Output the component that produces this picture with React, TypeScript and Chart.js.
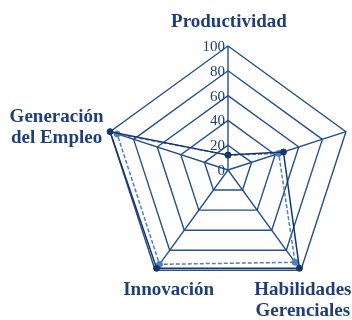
import React, { useEffect, useRef } from 'react';
import { Chart, registerables } from 'chart.js';

Chart.register(...registerables);

// Categories (clockwise from the top); each entry holds the lines of its label
const categories: string[][] = [
  ['Productividad'],
  [''],
  ['Habilidades', 'Gerenciales'],
  ['Innovación'],
  ['Generación', 'del Empleo'],
];

const serieOscura = [12, 47, 98, 98, 100];
const serieClara = [12, 43, 92, 94, 94];

const tickValues = [0, 20, 40, 60, 80, 100];

// Styles
const NAVY = '#1F3F7A';
const GRID = '#264F8E';
const DARK = '#17356B';
const LIGHT = '#4F7FC0';
const SERIF = '"Times New Roman", "Liberation Serif", serif';
const LABEL_LINE_HEIGHT = 21;
// label offsets (x, baseline y) relative to the outer vertex of each spoke
const labelOffsets: [number, number][] = [
  [1, -19],
  [0, 0],
  [2, 25],
  [13.5, 25],
  [-53.5, -10],
];

const labelPlugin = {
  id: 'customLabels',
  afterDraw(chart: any) {
    const scale = chart.scales.r;
    const ctx = chart.ctx as CanvasRenderingContext2D;
    ctx.save();
    // tick labels, right of nothing: left of the top spoke
    ctx.font = `15px ${SERIF}`;
    ctx.fillStyle = NAVY;
    ctx.textAlign = 'right';
    ctx.textBaseline = 'middle';
    tickValues.forEach((v) => {
      const p = scale.getPointPositionForValue(0, v);
      ctx.fillText(String(v), p.x - 3, p.y + 1);
    });
    // category labels
    ctx.font = `bold 19px ${SERIF}`;
    ctx.textAlign = 'center';
    ctx.textBaseline = 'alphabetic';
    categories.forEach((lines, i) => {
      const p = scale.getPointPosition(i, scale.drawingArea);
      const off = labelOffsets[i];
      lines.forEach((line, j) => {
        if (line) ctx.fillText(line, p.x + off[0], p.y + off[1] + j * LABEL_LINE_HEIGHT);
      });
    });
    ctx.restore();
  },
};

export default function App() {
  const ref = useRef<HTMLCanvasElement>(null);

  useEffect(() => {
    if (!ref.current) return;
    const chart = new Chart(ref.current, {
      type: 'radar',
      data: {
        labels: categories.map((l) => l.join(' ')),
        datasets: [
          {
            label: 'Serie 1',
            data: serieOscura,
            borderColor: DARK,
            backgroundColor: DARK,
            borderWidth: 1.5,
            pointRadius: 3,
            pointBackgroundColor: DARK,
            pointBorderColor: DARK,
            pointBorderWidth: 1,
            fill: false,
          },
          {
            label: 'Serie 2',
            data: serieClara,
            borderColor: LIGHT,
            backgroundColor: LIGHT,
            borderWidth: 1.5,
            borderDash: [4, 2],
            pointRadius: 3,
            pointBackgroundColor: LIGHT,
            pointBorderColor: LIGHT,
            pointBorderWidth: 1,
            fill: false,
          },
        ],
      },
      options: {
        responsive: false,
        animation: false,
        layout: { padding: { left: 104, right: 0, top: 46, bottom: 26 } },
        plugins: { legend: { display: false }, tooltip: { enabled: false } },
        elements: { line: { tension: 0 } },
        scales: {
          r: {
            min: 0,
            max: 100,
            ticks: { stepSize: 20, display: false },
            grid: { color: GRID, lineWidth: 1.4 },
            angleLines: { color: GRID, lineWidth: 1.4 },
            pointLabels: { display: false },
          },
        },
      },
      plugins: [labelPlugin],
    });
    return () => chart.destroy();
  }, []);

  return (
    <div style={{ position: 'absolute', left: 0, top: 0, width: 352, height: 320, background: '#fff' }}>
      <canvas ref={ref} width={352} height={320} style={{ width: 352, height: 320, display: 'block' }} />
    </div>
  );
}
